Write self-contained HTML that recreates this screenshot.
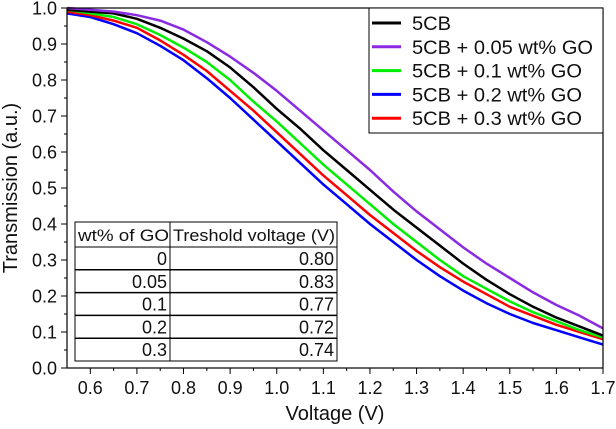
<!DOCTYPE html>
<html><head><meta charset="utf-8">
<style>
html,body{margin:0;padding:0;background:#fff;}
svg{display:block;font-family:"Liberation Sans",Arial,sans-serif;}
</style></head>
<body>
<svg id="chart" width="616" height="429" viewBox="0 0 616 429"></svg>
<script>
const voltages=[0.55,0.6,0.65,0.7,0.75,0.8,0.85,0.9,0.95,1.0,1.05,1.1,1.15,1.2,1.25,1.3,1.35,1.4,1.45,1.5,1.55,1.6,1.65,1.7];
const t5CB=[0.995,0.99,0.985,0.97,0.945,0.915,0.88,0.835,0.78,0.72,0.665,0.605,0.55,0.495,0.44,0.39,0.34,0.29,0.245,0.205,0.17,0.14,0.115,0.09];
const t005=[1.0,0.995,0.99,0.98,0.965,0.94,0.905,0.865,0.82,0.77,0.715,0.66,0.605,0.55,0.49,0.435,0.385,0.335,0.29,0.25,0.21,0.175,0.145,0.11];
const t01=[0.995,0.985,0.975,0.955,0.925,0.89,0.85,0.8,0.74,0.685,0.625,0.565,0.51,0.455,0.4,0.35,0.3,0.255,0.22,0.185,0.155,0.13,0.105,0.085];
const t02=[0.985,0.975,0.955,0.93,0.895,0.855,0.805,0.75,0.69,0.63,0.57,0.51,0.455,0.4,0.35,0.3,0.255,0.215,0.18,0.15,0.125,0.105,0.085,0.065];
const t03=[0.99,0.98,0.965,0.945,0.91,0.87,0.825,0.77,0.715,0.655,0.595,0.535,0.48,0.425,0.375,0.325,0.28,0.24,0.205,0.17,0.145,0.12,0.1,0.08];
const xTicks=[0.6,0.7,0.8,0.9,1.0,1.1,1.2,1.3,1.4,1.5,1.6,1.7];
const yTicks=[0.0,0.1,0.2,0.3,0.4,0.5,0.6,0.7,0.8,0.9,1.0];
const legendLabels=["5CB","5CB + 0.05 wt% GO","5CB + 0.1 wt% GO","5CB + 0.2 wt% GO","5CB + 0.3 wt% GO"];
const tableConc=["0","0.05","0.1","0.2","0.3"];
const tableVth=["0.80","0.83","0.77","0.72","0.74"];

const NS="http://www.w3.org/2000/svg";
const svg=document.getElementById('chart');
const X0=67,X1=603,Y0=368,Y1=8,VMIN=0.55,VMAX=1.7;
function xs(v){return X0+(v-VMIN)/(VMAX-VMIN)*(X1-X0);}
function ys(t){return Y0-(t)*(Y0-Y1);}
function el(tag,attrs,parent){const e=document.createElementNS(NS,tag);for(const k in attrs)e.setAttribute(k,attrs[k]);(parent||svg).appendChild(e);return e;}

const series=[[t5CB,'#000000','series-5cb'],[t005,'#8a2be2','series-005-go'],[t01,'#00ee00','series-01-go'],[t02,'#0000ff','series-02-go'],[t03,'#ff0000','series-03-go']];
const drawOrder=[3,4,2,0,1];
drawOrder.forEach(i=>{
  const s=series[i];
  const d=voltages.map((v,j)=>(j?'L':'M')+xs(v).toFixed(1)+','+ys(s[0][j]).toFixed(1)).join(' ');
  const p=el('path',{d:d,fill:'none',stroke:s[1],'stroke-width':2.5,'stroke-linejoin':'round'});
  
  
});

const fr=el('rect',{x:X0,y:Y1,width:X1-X0,height:Y0-Y1,fill:'none',stroke:'#000','stroke-width':1.2});



xTicks.forEach(v=>{
  const x=xs(v);
  el('line',{x1:x,y1:Y0,x2:x,y2:Y0+6,stroke:'#000','stroke-width':1});
  const tx=el('text',{x:x,y:Y0+26,'font-size':18,'text-anchor':'middle',fill:'#111'});
  tx.textContent=v.toFixed(1);
  
  
  const m=xs(v-0.05); if(m>X0) el('line',{x1:m,y1:Y0,x2:m,y2:Y0+3,stroke:'#000','stroke-width':1});
});
yTicks.forEach(t=>{
  const y=ys(t);
  el('line',{x1:X0,y1:y,x2:X0-6,y2:y,stroke:'#000','stroke-width':1});
  const ty=el('text',{x:X0-10,y:y+6.5,'font-size':18,'text-anchor':'end',fill:'#111'});
  ty.textContent=t.toFixed(1);
  
  
  if(t<1){const m=ys(t+0.05);el('line',{x1:X0,y1:m,x2:X0-3,y2:m,stroke:'#000','stroke-width':1});}
});
const xt=el('text',{x:(X0+X1)/2,y:420,'font-size':20,'text-anchor':'middle',fill:'#111'});
xt.textContent='Voltage (V)';


const yt=el('text',{x:0,y:0,'font-size':20,'text-anchor':'middle',fill:'#111',transform:'translate(17,188) rotate(-90)'});
yt.textContent='Transmission (a.u.)';



const lg=el('g',{});


el('rect',{x:369,y:8,width:234,height:125,fill:'#fff',stroke:'#000','stroke-width':1},lg);
const legendWidths=[39,181,170,170,170];
legendLabels.forEach((lab,i)=>{
  const y=23+i*23.8;
  const ln=el('line',{x1:372,y1:y,x2:401,y2:y,stroke:series[i][1],'stroke-width':3},lg);
  
  
  const t=el('text',{x:412,y:y+7,'font-size':19,fill:'#111',textLength:legendWidths[i],lengthAdjust:'spacingAndGlyphs'},lg);
  t.textContent=lab;
  
  
});

const tb=el('g',{});


const TX0=75,TX1=337,TXM=170,TY0=222,HH=25,RH=22.8;
el('rect',{x:TX0,y:TY0,width:TX1-TX0,height:HH+RH*5,fill:'#fff',stroke:'#000','stroke-width':1},tb);
el('line',{x1:TXM,y1:TY0,x2:TXM,y2:TY0+HH+RH*5,stroke:'#000','stroke-width':1},tb);
for(let r=0;r<5;r++) el('line',{x1:TX0,y1:TY0+HH+RH*r,x2:TX1,y2:TY0+HH+RH*r,stroke:'#000','stroke-width':r==0?1:1.5},tb);
const h1=el('text',{x:TX0+3,y:TY0+19,'font-size':17,fill:'#111',textLength:91,lengthAdjust:'spacingAndGlyphs'},tb);h1.textContent='wt% of GO';


const h2=el('text',{x:TXM+3,y:TY0+19,'font-size':17,fill:'#111',textLength:162,lengthAdjust:'spacingAndGlyphs'},tb);h2.textContent='Treshold voltage (V)';


tableConc.forEach((c,i)=>{
  const y=TY0+HH+RH*i+18;
  const a=el('text',{x:TXM-3,y:y,'font-size':18,'text-anchor':'end',fill:'#111'},tb);a.textContent=c;
  
  
  const b=el('text',{x:TX1-3,y:y,'font-size':18,'text-anchor':'end',fill:'#111'},tb);b.textContent=tableVth[i];
  
  
});
</script>
</body></html>
